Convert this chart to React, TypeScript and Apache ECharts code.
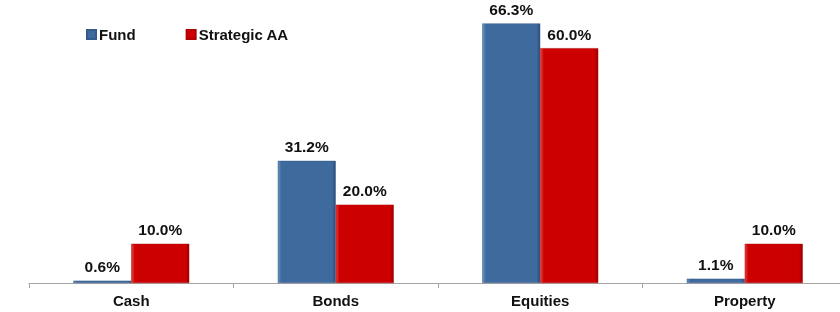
import React, { useEffect, useRef } from "react";
import * as echarts from "echarts";

const categories = ["Cash", "Bonds", "Equities", "Property"];
const fundValues = [0.6, 31.2, 66.3, 1.1];
const strategicValues = [10.0, 20.0, 60.0, 10.0];
const seriesNames = ["Fund", "Strategic AA"];

const FONT = "'Liberation Sans', Arial, sans-serif";

function bevel(base: string, light: string, dark: string) {
  return new echarts.graphic.LinearGradient(0, 0, 1, 0, [
    { offset: 0, color: light },
    { offset: 0.06, color: base },
    { offset: 0.94, color: base },
    { offset: 1, color: dark },
  ]);
}

export default function App() {
  const ref = useRef<HTMLDivElement>(null);
  useEffect(() => {
    if (!ref.current) return;
    const chart = echarts.init(ref.current, undefined, { renderer: "svg" });
    const label = {
      show: true,
      position: "top",
      distance: 6,
      formatter: (p: any) => p.value.toFixed(1) + "%",
      fontFamily: FONT,
      fontWeight: "bold",
      fontSize: 15.5,
      color: "#111",
    };
    chart.setOption({
      animation: false,
      legend: {
        left: 81,
        top: 22,
        itemWidth: 9,
        itemHeight: 9,
        itemGap: 50,
        icon: "rect",
        textStyle: { fontFamily: FONT, fontWeight: "bold", fontSize: 15, color: "#111", padding: [0, 0, 0, -2] },
        data: seriesNames,
      },
      grid: { left: 29, right: 1, top: 9, bottom: 29, containLabel: false },
      xAxis: {
        type: "category",
        data: categories,
        axisLine: { lineStyle: { color: "#a6a6a6", width: 1 } },
        axisTick: { show: true, length: 5, lineStyle: { color: "#a6a6a6" } },
        axisLabel: { fontFamily: FONT, fontWeight: "bold", fontSize: 15, color: "#111", margin: 10 },
      },
      yAxis: {
        type: "value",
        min: 0,
        max: 70,
        show: false,
        splitLine: { show: false },
      },
      series: [
        {
          name: seriesNames[0],
          type: "bar",
          data: fundValues,
          barWidth: 58,
          barGap: "0%",
          itemStyle: {
            color: bevel("#3e6a9d", "#6d93c2", "#2c4f78"),
            borderColor: "#345c8a",
            borderWidth: 0.5,
          },
          label,
        },
        {
          name: seriesNames[1],
          type: "bar",
          data: strategicValues,
          barWidth: 58,
          barGap: "0%",
          itemStyle: {
            color: bevel("#cc0000", "#e84040", "#990000"),
            borderColor: "#b00000",
            borderWidth: 0.5,
          },
          label,
        },
      ],
    });
    return () => chart.dispose();
  }, []);
  return (
    <div style={{ position: "fixed", left: 0, top: 0, width: 840, height: 312, overflow: "hidden" }}>
      <div ref={ref} style={{ width: 848, height: 312 }} />
    </div>
  );
}
